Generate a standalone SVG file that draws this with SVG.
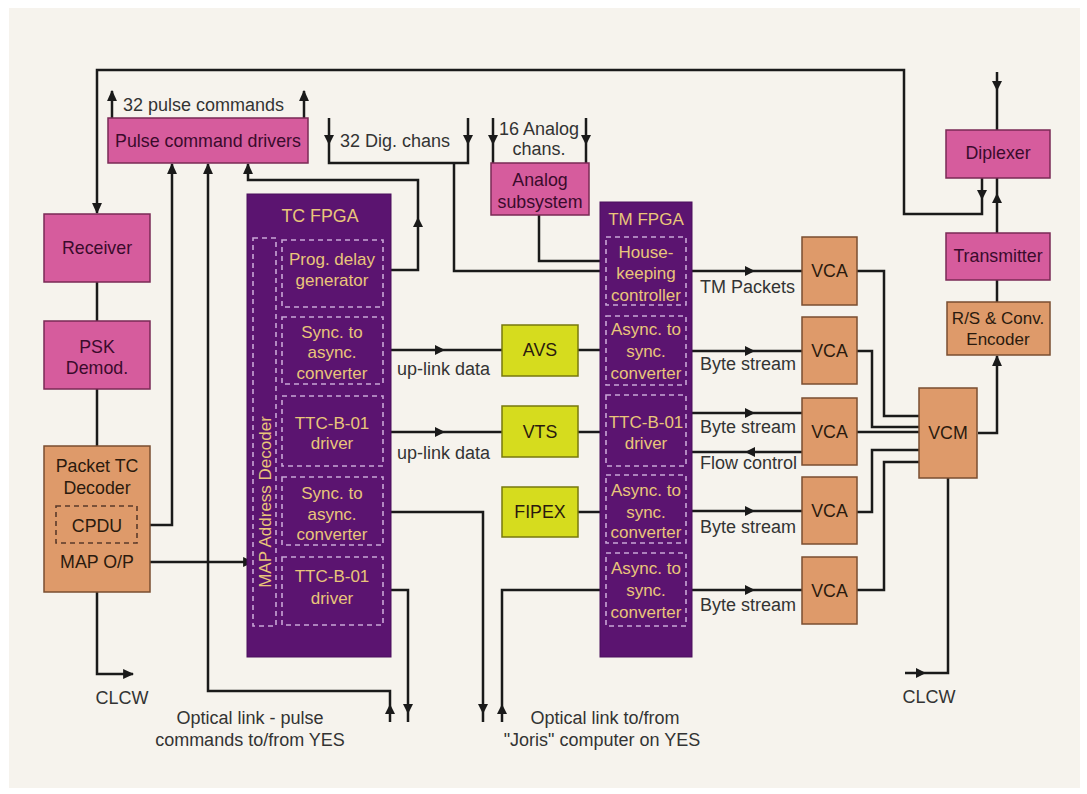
<svg xmlns="http://www.w3.org/2000/svg" xmlns:xlink="http://www.w3.org/1999/xlink" width="1087" height="794" viewBox="0 0 1087 794">
<defs>
<style>
.pk{fill:#d65c9d;stroke:#7a2a55;stroke-width:1.5}
.or{fill:#de9a6a;stroke:#7a4e30;stroke-width:1.5}
.yl{fill:#d6dc1e;stroke:#77780e;stroke-width:1.5}
.pu{fill:#5b1470;stroke:#4a0f5c;stroke-width:1}
.ds{fill:none;stroke:#c9a6d6;stroke-width:1.6;stroke-dasharray:5 4}
.dk{fill:none;stroke:#5a3a2a;stroke-width:1.6;stroke-dasharray:5 4}
.t{font-family:"Liberation Sans",Arial,sans-serif;font-size:17px;text-anchor:middle}
.big{font-size:17.8px}
.tn{fill:#3a0b2c}
.to{fill:#2b1a0e}
.tf{fill:#e9c57a}
.lb{font-family:"Liberation Sans",Arial,sans-serif;font-size:18px;fill:#333}
.c path{fill:none;stroke:#1a1a1a;stroke-width:2.5}
.ah{fill:#1a1a1a}
</style>
<marker id="m" viewBox="0 0 10 10" refX="9" refY="5" markerWidth="11" markerHeight="11" markerUnits="userSpaceOnUse" orient="auto"><path d="M0,0.5 L10,5 L0,9.5 Z" fill="#1a1a1a"/></marker>
<path id="ah" d="M5,0 L-5,-5 L-5,5 Z"/>
</defs>
<rect width="1087" height="794" fill="#ffffff"/>
<rect x="9" y="8" width="1071" height="780" fill="#f6f3ed"/>

<g id="connectors" class="c">
<path d="M982,178 V214 H904 V70 H97 V213" marker-end="url(#m)"/>
<path d="M997,72 V130"/>
<path d="M997,233 V178"/>
<path d="M997,280 V302"/>
<path d="M978,433 H997 V356" marker-end="url(#m)"/>
<path d="M948,478 V673 H905"/>
<path d="M97,282 V321"/>
<path d="M97,389 V446"/>
<path d="M97,592 V674 H133" marker-end="url(#m)"/>
<path d="M137,525 H172 V164" marker-end="url(#m)"/>
<path d="M390,722 V691 H208 V164" marker-end="url(#m)"/>
<path d="M391,270 H418 V180 H248 V164" marker-end="url(#m)"/>
<path d="M150,562 H253" marker-end="url(#m)"/>
<path d="M112,118 V91" marker-end="url(#m)"/>
<path d="M304,118 V91" marker-end="url(#m)"/>
<path d="M329,118 V163 H468 V118"/>
<path d="M454,163 V271 H600"/>
<path d="M493,118 V163"/>
<path d="M586,118 V163"/>
<path d="M539,215 V261 H600"/>
<path d="M391,350 H502"/>
<path d="M578,350 H600"/>
<path d="M391,432 H502"/>
<path d="M578,432 H600"/>
<path d="M578,512 H600"/>
<path d="M391,512 H483 V722"/>
<path d="M502,722 V590 H600"/>
<path d="M391,590 H408 V722"/>
<path d="M692,271 H802"/>
<path d="M692,351 H802"/>
<path d="M692,413 H802"/>
<path d="M802,452 H692"/>
<path d="M692,511 H802"/>
<path d="M692,590 H802"/>
<path d="M857,271 H884 V416 H919"/>
<path d="M857,351 H872 V427 H919"/>
<path d="M857,432 H919"/>
<path d="M857,512 H872 V450 H919"/>
<path d="M857,590 H884 V462 H919"/>
<g class="ah">
<use xlink:href="#ah" transform="translate(982,195) rotate(90)"/>
<use xlink:href="#ah" transform="translate(997,86) rotate(90)"/>
<use xlink:href="#ah" transform="translate(997,198) rotate(-90)"/>
<use xlink:href="#ah" transform="translate(921,673)"/>
<use xlink:href="#ah" transform="translate(390,709) rotate(-90)"/>
<use xlink:href="#ah" transform="translate(418,222) rotate(-90)"/>
<use xlink:href="#ah" transform="translate(329,140) rotate(90)"/>
<use xlink:href="#ah" transform="translate(468,140) rotate(90)"/>
<use xlink:href="#ah" transform="translate(493,140) rotate(90)"/>
<use xlink:href="#ah" transform="translate(586,140) rotate(90)"/>
<use xlink:href="#ah" transform="translate(440,350)"/>
<use xlink:href="#ah" transform="translate(440,432)"/>
<use xlink:href="#ah" transform="translate(483,709) rotate(90)"/>
<use xlink:href="#ah" transform="translate(502,709) rotate(-90)"/>
<use xlink:href="#ah" transform="translate(408,709) rotate(90)"/>
<use xlink:href="#ah" transform="translate(750,271)"/>
<use xlink:href="#ah" transform="translate(750,351)"/>
<use xlink:href="#ah" transform="translate(750,413)"/>
<use xlink:href="#ah" transform="translate(750,452) rotate(180)"/>
<use xlink:href="#ah" transform="translate(750,511)"/>
<use xlink:href="#ah" transform="translate(750,590)"/>
</g>
</g>

<g id="pulse-drivers"><rect class="pk" x="108" y="118" width="200" height="45"/><text class="t big tn" x="208" y="147">Pulse command drivers</text></g>
<g id="receiver"><rect class="pk" x="44" y="214" width="106" height="68"/><text class="t big tn" x="97" y="254">Receiver</text></g>
<g id="psk"><rect class="pk" x="44" y="321" width="106" height="68"/><text class="t big tn" x="97" y="353">PSK</text><text class="t big tn" x="97" y="374">Demod.</text></g>
<g id="packet-tc"><rect class="or" x="44" y="446" width="106" height="146"/><text class="t big to" x="97" y="472">Packet TC</text><text class="t big to" x="97" y="494">Decoder</text><rect class="dk" x="56" y="506" width="81" height="37"/><text class="t big to" x="97" y="532">CPDU</text><text class="t big to" x="97" y="568">MAP O/P</text></g>
<g id="analog"><rect class="pk" x="491" y="163" width="98" height="52"/><text class="t big tn" x="540" y="186">Analog</text><text class="t big tn" x="540" y="208">subsystem</text></g>
<g id="diplexer"><rect class="pk" x="946" y="130" width="104" height="48"/><text class="t big tn" x="998" y="159">Diplexer</text></g>
<g id="transmitter"><rect class="pk" x="946" y="233" width="104" height="47"/><text class="t big tn" x="998" y="262">Transmitter</text></g>
<g id="rs-encoder"><rect class="or" x="947" y="302" width="103" height="53"/><text class="t to" x="998" y="324">R/S &amp; Conv.</text><text class="t to" x="998" y="345">Encoder</text></g>
<g id="vcm"><rect class="or" x="919" y="388" width="58" height="90"/><text class="t big to" x="948" y="439">VCM</text></g>
<g id="vca1"><rect class="or" x="802" y="237" width="55" height="68"/><text class="t big to" x="829.5" y="277">VCA</text></g>
<g id="vca2"><rect class="or" x="802" y="317" width="55" height="67"/><text class="t big to" x="829.5" y="357">VCA</text></g>
<g id="vca3"><rect class="or" x="802" y="398" width="55" height="67"/><text class="t big to" x="829.5" y="438">VCA</text></g>
<g id="vca4"><rect class="or" x="802" y="477" width="55" height="67"/><text class="t big to" x="829.5" y="517">VCA</text></g>
<g id="vca5"><rect class="or" x="802" y="557" width="55" height="67"/><text class="t big to" x="829.5" y="597">VCA</text></g>
<g id="avs"><rect class="yl" x="502" y="325" width="76" height="51"/><text class="t big to" x="540" y="356">AVS</text></g>
<g id="vts"><rect class="yl" x="502" y="406" width="76" height="51"/><text class="t big to" x="540" y="438">VTS</text></g>
<g id="fipex"><rect class="yl" x="502" y="487" width="76" height="50"/><text class="t big to" x="540" y="518">FIPEX</text></g>

<g id="tc-fpga">
<rect class="pu" x="247" y="194" width="144" height="463"/>
<text class="t big tf" x="320" y="222">TC FPGA</text>
<rect class="ds" x="253" y="238" width="23" height="388"/>
<text class="t tf" transform="translate(271,502) rotate(-90)">MAP Address Decoder</text>
<rect class="ds" x="282" y="240" width="101" height="67"/>
<text class="t tf" x="332" y="265">Prog. delay</text><text class="t tf" x="332" y="286">generator</text>
<rect class="ds" x="282" y="317" width="101" height="67"/>
<text class="t tf" x="332" y="338">Sync. to</text><text class="t tf" x="332" y="358">async.</text><text class="t tf" x="332" y="379">converter</text>
<rect class="ds" x="282" y="396" width="101" height="70"/>
<text class="t tf" x="332" y="429">TTC-B-01</text><text class="t tf" x="332" y="449">driver</text>
<rect class="ds" x="282" y="477" width="101" height="68"/>
<text class="t tf" x="332" y="499">Sync. to</text><text class="t tf" x="332" y="520">async.</text><text class="t tf" x="332" y="540">converter</text>
<rect class="ds" x="282" y="557" width="101" height="68"/>
<text class="t tf" x="332" y="582">TTC-B-01</text><text class="t tf" x="332" y="604">driver</text>
</g>

<g id="tm-fpga">
<rect class="pu" x="600" y="202" width="92" height="455"/>
<text class="t tf" x="646" y="225">TM FPGA</text>
<rect class="ds" x="606" y="237" width="80" height="68"/>
<text class="t tf" x="646" y="258">House-</text><text class="t tf" x="646" y="279">keeping</text><text class="t tf" x="646" y="301">controller</text>
<rect class="ds" x="606" y="316" width="80" height="69"/>
<text class="t tf" x="646" y="335">Async. to</text><text class="t tf" x="646" y="357">sync.</text><text class="t tf" x="646" y="379">converter</text>
<rect class="ds" x="606" y="395" width="80" height="71"/>
<text class="t tf" x="646" y="428">TTC-B-01</text><text class="t tf" x="646" y="449">driver</text>
<rect class="ds" x="606" y="475" width="80" height="68"/>
<text class="t tf" x="646" y="496">Async. to</text><text class="t tf" x="646" y="518">sync.</text><text class="t tf" x="646" y="538">converter</text>
<rect class="ds" x="606" y="553" width="80" height="73"/>
<text class="t tf" x="646" y="574">Async. to</text><text class="t tf" x="646" y="596">sync.</text><text class="t tf" x="646" y="618">converter</text>
</g>

<g id="labels">
<text class="lb" x="123" y="111">32 pulse commands</text>
<text class="lb" x="340" y="147">32 Dig. chans</text>
<text class="lb" x="539" y="135" text-anchor="middle">16 Analog</text>
<text class="lb" x="539" y="155" text-anchor="middle">chans.</text>
<text class="lb" x="397" y="375">up-link data</text>
<text class="lb" x="397" y="459">up-link data</text>
<text class="lb" x="700" y="293">TM Packets</text>
<text class="lb" x="700" y="370">Byte stream</text>
<text class="lb" x="700" y="433">Byte stream</text>
<text class="lb" x="700" y="469">Flow control</text>
<text class="lb" x="700" y="533">Byte stream</text>
<text class="lb" x="700" y="611">Byte stream</text>
<text class="lb" x="122" y="704" text-anchor="middle">CLCW</text>
<text class="lb" x="929" y="703" text-anchor="middle">CLCW</text>
<text class="lb" x="250" y="724" text-anchor="middle">Optical link - pulse</text>
<text class="lb" x="250" y="746" text-anchor="middle">commands to/from YES</text>
<text class="lb" x="605" y="724" text-anchor="middle">Optical link to/from</text>
<text class="lb" x="602" y="746" text-anchor="middle">"Joris" computer on YES</text>
</g>
</svg>
